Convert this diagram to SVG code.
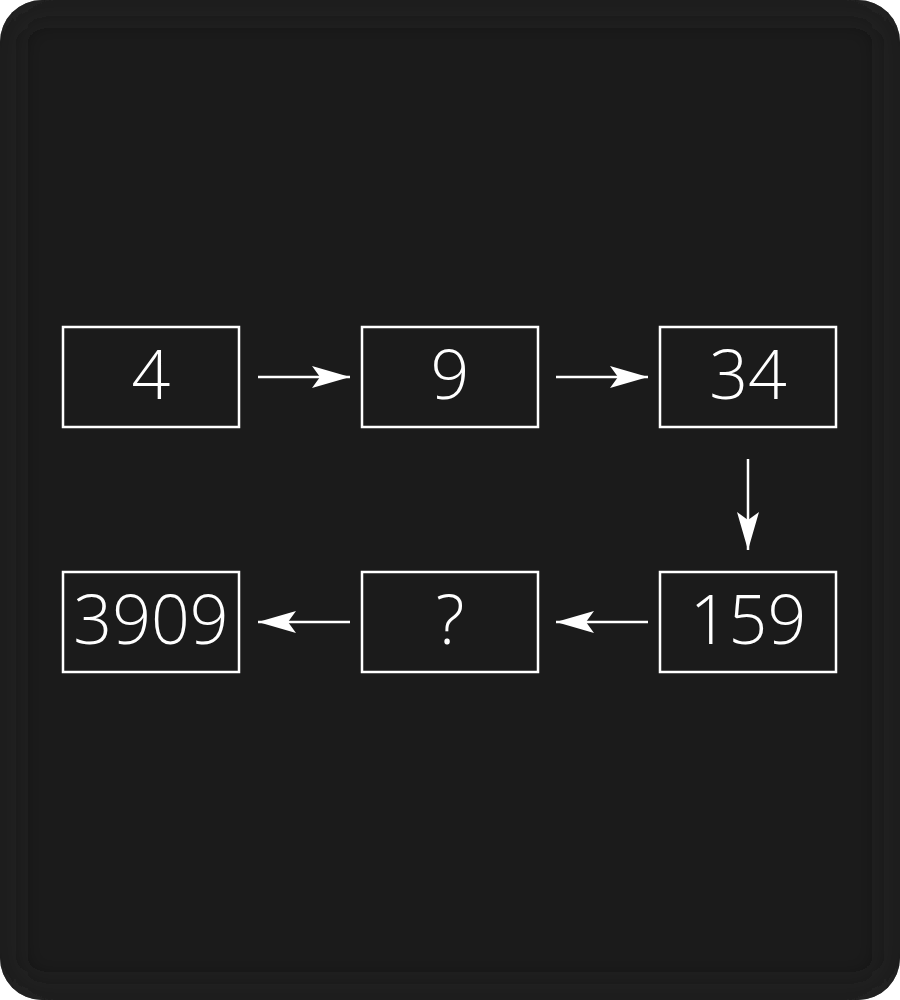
<svg xmlns="http://www.w3.org/2000/svg" width="900" height="1000" viewBox="0 0 900 1000">
<defs>
<style>
.box{fill:none;stroke:#ffffff;stroke-width:2.5}
.lbl{fill:#ffffff;font-family:"Open Sans","Inter","Lato",sans-serif;font-weight:300;font-size:68px;text-anchor:middle}
.conn{stroke:#ffffff;stroke-width:2.5;fill:none}
</style>
<marker id="ah" viewBox="0 0 40 24" refX="38" refY="12" markerWidth="40" markerHeight="24" markerUnits="userSpaceOnUse" orient="auto">
<path d="M0,1 L38,12 L0,23 L8,12 Z" fill="#ffffff"/>
</marker>
<clipPath id="cp"><rect x="0" y="0" width="900" height="1000" rx="42" ry="42"/></clipPath>
<filter id="bl" filterUnits="userSpaceOnUse" x="-100" y="-100" width="1100" height="1200"><feGaussianBlur stdDeviation="14"/></filter>
</defs>
<rect x="0" y="0" width="900" height="1000" fill="#ffffff"/>
<rect x="0" y="0" width="900" height="1000" rx="42" ry="42" fill="#1b1b1b"/>
<g clip-path="url(#cp)">
<rect x="0" y="0" width="900" height="1000" rx="42" ry="42" fill="none" stroke="#242424" stroke-width="24" filter="url(#bl)"/>
</g>
<g id="connectors">
<line class="conn" x1="258" y1="377" x2="350" y2="377" marker-end="url(#ah)"/>
<line class="conn" x1="556" y1="377" x2="648" y2="377" marker-end="url(#ah)"/>
<line class="conn" x1="748" y1="459" x2="748" y2="550" marker-end="url(#ah)"/>
<line class="conn" x1="648" y1="622" x2="556" y2="622" marker-end="url(#ah)"/>
<line class="conn" x1="350" y1="622" x2="258" y2="622" marker-end="url(#ah)"/>
</g>
<g id="n4"><rect class="box" x="63" y="327" width="176" height="100"/><text class="lbl" x="151" y="399">4</text></g>
<g id="n9"><rect class="box" x="362" y="327" width="176" height="100"/><text class="lbl" x="450" y="399">9</text></g>
<g id="n34"><rect class="box" x="660" y="327" width="176" height="100"/><text class="lbl" x="748" y="399">34</text></g>
<g id="n159"><rect class="box" x="660" y="572" width="176" height="100"/><text class="lbl" x="748" y="644">159</text></g>
<g id="nq"><rect class="box" x="362" y="572" width="176" height="100"/><text class="lbl" x="450" y="644">?</text></g>
<g id="n3909"><rect class="box" x="63" y="572" width="176" height="100"/><text class="lbl" x="151" y="644">3909</text></g>
</svg>
